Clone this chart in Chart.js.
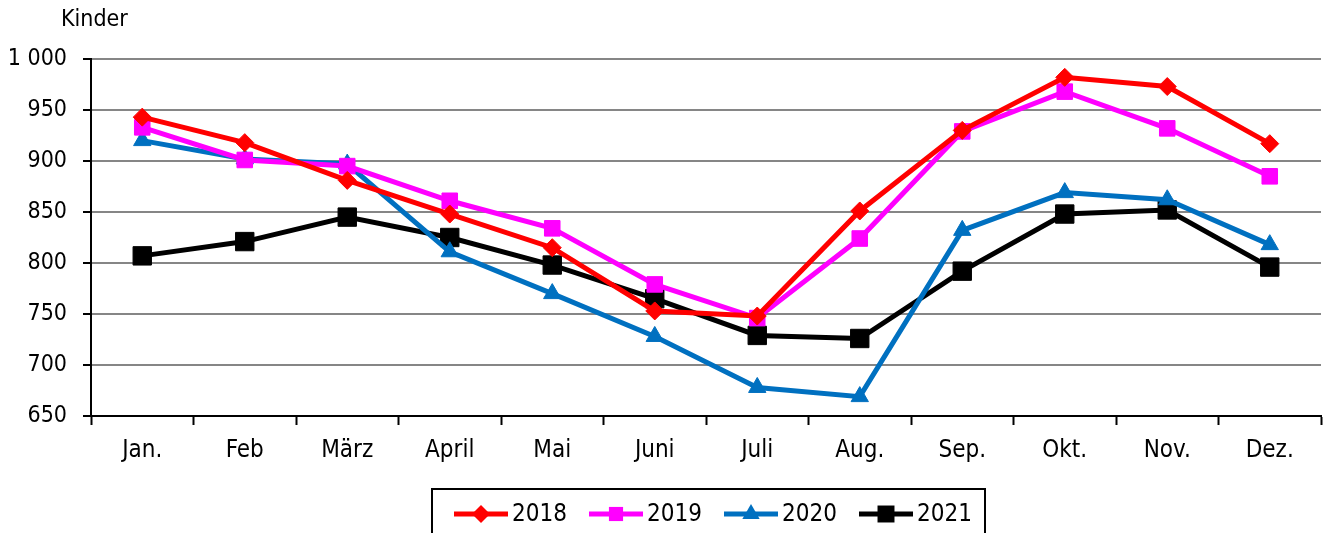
<!DOCTYPE html>
<html>
<head>
<meta charset="utf-8">
<script src="https://cdn.jsdelivr.net/npm/chart.js@4/dist/chart.umd.min.js"></script>
<style>
  html, body { margin: 0; padding: 0; background: #fff; overflow: hidden; }
  canvas { display: block; }
</style>
</head>
<body>
<canvas id="kinderChart" width="1335" height="533"></canvas>
<script>
const months = ["Jan.", "Feb", "März", "April", "Mai", "Juni", "Juli", "Aug.", "Sep.", "Okt.", "Nov.", "Dez."];

const kinder2018 = [943, 918, 881, 848, 815, 753, 748, 851, 930, 982, 973, 917];
const kinder2019 = [933, 901, 895, 861, 834, 779, 746, 824, 929, 968, 932, 885];
const kinder2020 = [920, 902, 897, 811, 770, 728, 678, 669, 832, 869, 862, 818];
const kinder2021 = [807, 821, 845, 825, 798, 765, 729, 726, 792, 848, 852, 796];

const yMin = 650;
const yMax = 1000;
const yStep = 50;

const FONT = "'DejaVu Sans Condensed', 'DejaVu Sans', sans-serif";
const FONT_SIZE = 23;

// series look: colour + marker
const series = [
    { label: "2018", data: kinder2018, color: "#ff0000", style: "rectRot", radius: 9 },
    { label: "2019", data: kinder2019, color: "#ff00ff", style: "rect", radius: 11 },
    { label: "2020", data: kinder2020, color: "#0070c0", style: "triangle", radius: 10 },
    { label: "2021", data: kinder2021, color: "#000000", style: "rect", radius: 13 }
];

// -------------------------
// axis caption + boxed legend
// -------------------------
function drawMarker(ctx, style, x, y, r) {
    ctx.beginPath();
    if (style === "rect") {
        const s = r * Math.SQRT1_2;
        ctx.rect(x - s, y - s, 2 * s, 2 * s);
    } else if (style === "rectRot") {
        ctx.moveTo(x, y - r);
        ctx.lineTo(x + r, y);
        ctx.lineTo(x, y + r);
        ctx.lineTo(x - r, y);
        ctx.closePath();
    } else if (style === "triangle") {
        ctx.moveTo(x, y - r);
        ctx.lineTo(x + r * 0.866, y + r * 0.5);
        ctx.lineTo(x - r * 0.866, y + r * 0.5);
        ctx.closePath();
    }
    ctx.fill();
}

const extras = {
    id: "extras",
    afterDraw(chart) {
        const ctx = chart.ctx;
        ctx.save();

        ctx.fillStyle = "#000";
        ctx.font = FONT_SIZE + "px " + FONT;
        ctx.textAlign = "left";
        ctx.textBaseline = "middle";
        ctx.fillText("Kinder", 61, 20);

        // legend frame
        ctx.strokeStyle = "#000";
        ctx.lineWidth = 2;
        ctx.strokeRect(432, 489, 553, 60);

        series.forEach((s, i) => {
            const mx = 481 + i * 135;
            const my = 514;
            ctx.strokeStyle = s.color;
            ctx.lineWidth = 5;
            ctx.beginPath();
            ctx.moveTo(mx - 27, my);
            ctx.lineTo(mx + 27, my);
            ctx.stroke();
            ctx.fillStyle = s.color;
            drawMarker(ctx, s.style, mx, my, s.style === "rect" ? s.radius - 1 : s.radius);
            ctx.fillStyle = "#000";
            ctx.font = "24px " + FONT;
            ctx.fillText(s.label, mx + 31, my + 1);
        });

        ctx.restore();
    }
};

const ctx = document.getElementById("kinderChart").getContext("2d");

new Chart(ctx, {
    type: "line",
    data: {
        labels: months,
        datasets: series.map(s => ({
            label: s.label,
            data: s.data,
            borderColor: s.color,
            backgroundColor: s.color,
            borderWidth: 5,
            tension: 0,
            pointStyle: s.style,
            pointRadius: s.radius,
            pointBackgroundColor: s.color,
            pointBorderColor: s.color,
            pointBorderWidth: 1
        }))
    },
    options: {
        responsive: false,
        maintainAspectRatio: false,
        animation: false,
        devicePixelRatio: 1,
        layout: { padding: { left: 0, right: 9, top: 59, bottom: 57 } },
        plugins: {
            legend: { display: false },
            tooltip: { enabled: false }
        },
        scales: {
            x: {
                offset: true,
                grid: {
                    offset: true,
                    drawOnChartArea: false,
                    tickLength: 9,
                    tickColor: "#000",
                    tickWidth: 2
                },
                border: { color: "#000", width: 2 },
                ticks: {
                    color: "#000",
                    font: { family: FONT, size: 24 },
                    padding: 11,
                    maxRotation: 0,
                    autoSkip: false
                },
                afterFit(scale) { scale.height = 60; }
            },
            y: {
                min: yMin,
                max: yMax,
                grid: {
                    color: "#868686",
                    lineWidth: 2,
                    tickLength: 8,
                    tickColor: "#000",
                    tickWidth: 2
                },
                border: { color: "#000", width: 2 },
                ticks: {
                    stepSize: yStep,
                    color: "#000",
                    font: { family: FONT, size: FONT_SIZE },
                    padding: 16,
                    callback: v => v >= 1000 ? Math.floor(v / 1000) + " " + String(v % 1000).padStart(3, "0") : v
                },
                afterFit(scale) { scale.width = 91; }
            }
        }
    },
    plugins: [extras]
});
</script>
</body>
</html>
